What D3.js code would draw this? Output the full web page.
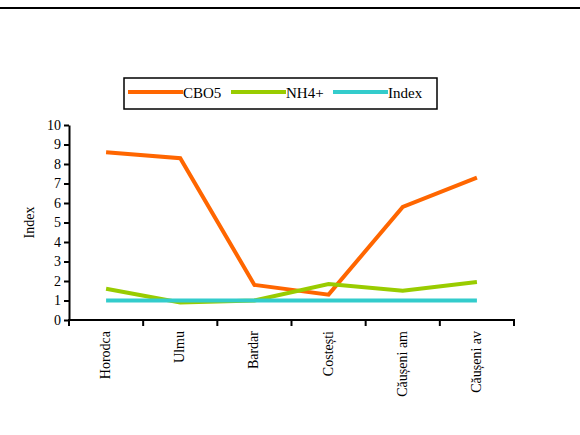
<!DOCTYPE html>
<html lang="en">
<head>
<meta charset="UTF-8">
<title>Index</title>
<style>
  body { margin: 0; background: #fff; }
  svg { display: block; }
</style>
</head>
<body>
<script src="https://cdn.jsdelivr.net/npm/d3@7"></script>
<script>
var categories = ["Horodca", "Ulmu", "Bardar", "Costești", "Căușeni am", "Căușeni av"];
var cbo5 = [8.6, 8.3, 1.8, 1.3, 5.8, 7.3];
var nh4 = [1.6, 0.9, 1.0, 1.85, 1.5, 1.95];
var indexVals = [1, 1, 1, 1, 1, 1];
var yTicks = [0, 1, 2, 3, 4, 5, 6, 7, 8, 9, 10];

var series = [
  {name: "CBO5", values: cbo5, color: "#ff6600"},
  {name: "NH4+", values: nh4, color: "#99cc00"},
  {name: "Index", values: indexVals, color: "#33cccc"}
];

var FONT = "'Liberation Serif', 'Times New Roman', serif";
var W = 580, H = 435;
var margin = {left: 69, top: 125, right: 66, bottom: 115};
var width = W - margin.left - margin.right,
    height = H - margin.top - margin.bottom;

var svg = d3.select("body").append("svg")
  .attr("width", W).attr("height", H)
  .style("font-family", FONT);

// top rule
svg.append("line")
  .attr("x1", 0).attr("x2", W).attr("y1", 8).attr("y2", 8)
  .attr("stroke", "#000").attr("stroke-width", 2);

var g = svg.append("g")
  .attr("transform", "translate(" + margin.left + "," + margin.top + ")");

var x = d3.scaleBand().domain(categories).range([0, width]);
var y = d3.scaleLinear().domain([0, 10]).range([height, 0]);

// y axis
var yAxis = g.append("g")
  .call(d3.axisLeft(y).tickValues(yTicks).tickSize(5).tickSizeOuter(0).tickPadding(3));
yAxis.attr("font-family", null).attr("font-size", null);
yAxis.selectAll("path, line").attr("stroke", "#000").attr("stroke-width", 2);
yAxis.selectAll("text").style("font-size", "14px").style("font-family", FONT).attr("fill", "#000");

// x axis, ticks on band edges
var xAxis = g.append("g")
  .attr("transform", "translate(0," + height + ")");
xAxis.append("line").attr("x1", -1).attr("x2", width + 1)
  .attr("stroke", "#000").attr("stroke-width", 2);
var edges = categories.map(function(c) { return x(c); }).concat([width]);
xAxis.selectAll(".edge").data(edges).enter().append("line")
  .attr("class", "edge")
  .attr("x1", function(d) { return d; }).attr("x2", function(d) { return d; })
  .attr("y1", 0).attr("y2", 6)
  .attr("stroke", "#000").attr("stroke-width", 2);
xAxis.selectAll(".lab").data(categories).enter().append("text")
  .attr("class", "lab")
  .attr("transform", function(d) {
    return "translate(" + (x(d) + x.bandwidth() / 2 + 4) + ",11) rotate(-90)";
  })
  .attr("text-anchor", "end")
  .style("font-size", "14px")
  .text(function(d) { return d; });

// y title
svg.append("text")
  .attr("transform", "translate(34," + (margin.top + height / 2) + ") rotate(-90)")
  .attr("text-anchor", "middle")
  .style("font-size", "14px")
  .text("Index");

var line = d3.line()
  .x(function(d, i) { return x(categories[i]) + x.bandwidth() / 2; })
  .y(function(d) { return y(d); });

g.selectAll(".series").data(series).enter().append("path")
  .attr("class", "series")
  .attr("fill", "none")
  .attr("stroke", function(d) { return d.color; })
  .attr("stroke-width", 4)
  .attr("d", function(d) { return line(d.values); });

// legend
var legend = svg.append("g").attr("transform", "translate(124,78)");
legend.append("rect").attr("width", 313).attr("height", 31)
  .attr("fill", "#fff").attr("stroke", "#000").attr("stroke-width", 1.5);
var legX = [4, 107, 209];
series.forEach(function(s, i) {
  var lg = legend.append("g").attr("transform", "translate(" + legX[i] + ",0)");
  lg.append("line").attr("x1", 0).attr("x2", 55).attr("y1", 14).attr("y2", 14)
    .attr("stroke", s.color).attr("stroke-width", 4);
  lg.append("text").attr("x", 55).attr("y", 20)
    .style("font-size", "15px").text(s.name);
});
</script>
</body>
</html>
